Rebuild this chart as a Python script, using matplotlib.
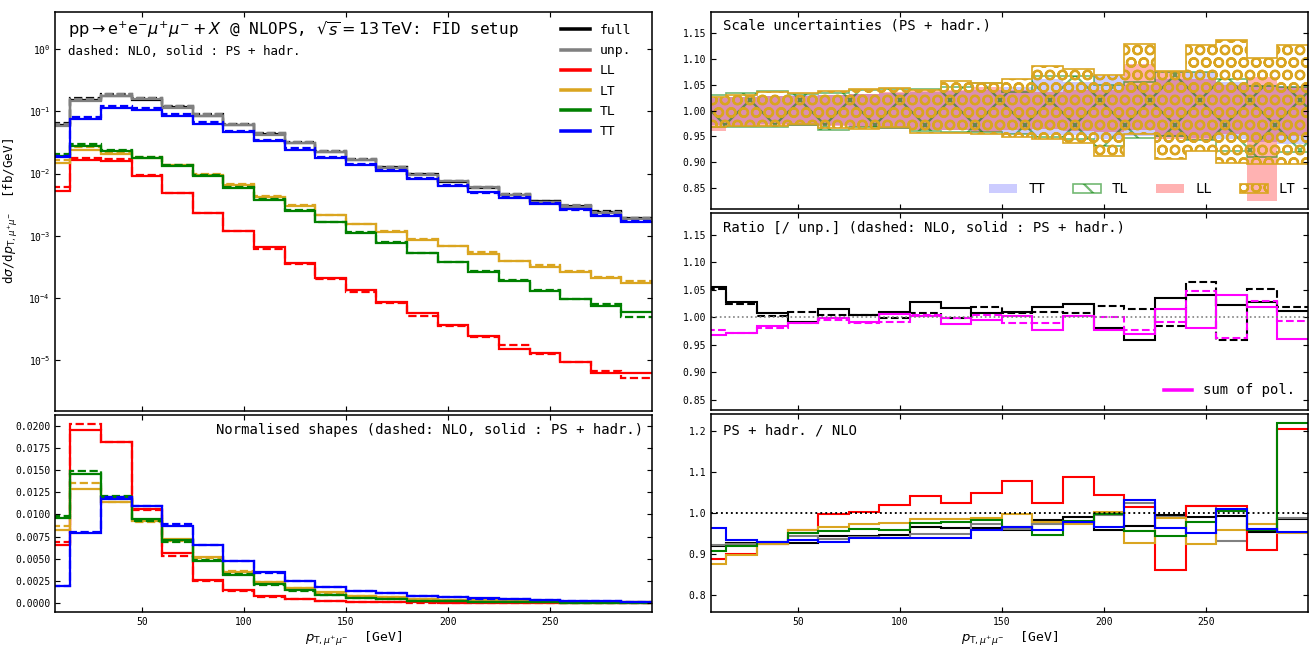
import numpy as np
import matplotlib
matplotlib.use('Agg')
import matplotlib.pyplot as plt
from matplotlib.lines import Line2D
from matplotlib.ticker import FormatStrFormatter, NullLocator, FixedLocator

plt.rcParams['font.family'] = ['DejaVu Sans Mono', 'DejaVu Sans']
plt.rcParams['mathtext.fontset'] = 'dejavusans'
plt.rcParams['hatch.linewidth'] = 1.05

# bin edges of p_T,mumu [GeV]
edges = np.arange(0, 301, 15)

# --- differential cross sections [fb/GeV], PS + hadr. (solid) and NLO (dashed)
full_ps = [0.061, 0.152, 0.176, 0.155, 0.117, 0.085, 0.060, 0.043, 0.031, 0.0226,
           0.0166, 0.0126, 0.0098, 0.0074, 0.0058, 0.0046, 0.0036, 0.0030, 0.0024, 0.0019]
full_nlo = [0.0663, 0.164, 0.190, 0.167, 0.124, 0.090, 0.0634, 0.0445, 0.0322, 0.0235,
            0.0173, 0.0128, 0.0099, 0.0077, 0.0060, 0.00463, 0.00364, 0.00302, 0.00252, 0.00193]
unp_ps = [0.0578, 0.148, 0.175, 0.156, 0.115, 0.0847, 0.0595, 0.0419, 0.0305, 0.0224,
          0.01645, 0.01236, 0.00957, 0.00754, 0.00605, 0.00444, 0.00346, 0.00294, 0.00234, 0.00188]
unp_nlo = [0.0630, 0.160, 0.190, 0.1655, 0.1235, 0.0896, 0.0635, 0.0442, 0.0323, 0.0231,
           0.0172, 0.01269, 0.00983, 0.00754, 0.00591, 0.00471, 0.00342, 0.00315, 0.0024, 0.0019]
LL_ps = [0.00532, 0.0163, 0.0157, 0.0092, 0.00482, 0.00235, 0.00119, 0.000646, 0.000365, 0.000211,
         0.000135, 8.45e-5, 5.6e-5, 3.63e-5, 2.38e-5, 1.51e-5, 1.28e-5, 9.2e-6, 6.1e-6, 6.1e-6]
LL_nlo = [0.0060, 0.0181, 0.0170, 0.0096, 0.00483, 0.00235, 0.00117, 0.00062, 0.000356, 0.000201,
          0.000125, 8.25e-5, 5.15e-5, 3.48e-5, 2.34e-5, 1.76e-5, 1.26e-5, 9.1e-6, 6.7e-6, 5.05e-6]
LT_ps = [0.0147, 0.0236, 0.0208, 0.0177, 0.0135, 0.00955, 0.00657, 0.00426, 0.00305, 0.00214,
         0.00154, 0.00116, 0.00085, 0.00068, 0.000505, 0.000394, 0.000315, 0.000261, 0.000211, 0.000176]
LT_nlo = [0.0168, 0.0263, 0.0225, 0.01846, 0.01396, 0.0098, 0.00673, 0.00432, 0.0031, 0.00217,
          0.00154, 0.00119, 0.00087, 0.00068, 0.000545, 0.000398, 0.000341, 0.000272, 0.000217, 0.000185]
TL_ps = [0.0189, 0.0274, 0.0227, 0.0177, 0.0130, 0.00897, 0.0058, 0.00376, 0.00253, 0.00164,
         0.00111, 0.00075, 0.000517, 0.00037, 0.000261, 0.000185, 0.000129, 9.55e-5, 7.46e-5, 5.9e-5]
TL_nlo = [0.0208, 0.0298, 0.0244, 0.0186, 0.0136, 0.00934, 0.00605, 0.00385, 0.00259, 0.00167,
          0.00115, 0.00079, 0.000528, 0.000371, 0.000273, 0.000196, 0.000132, 9.5e-5, 7.8e-5, 4.85e-5]
TT_ps = [0.0185, 0.0767, 0.114, 0.105, 0.0847, 0.063, 0.046, 0.033, 0.0242, 0.0178,
         0.0137, 0.0108, 0.0082, 0.0064, 0.00507, 0.0040, 0.0032, 0.00266, 0.0021, 0.00166]
TT_nlo = [0.0192, 0.0820, 0.1226, 0.1125, 0.0913, 0.0670, 0.0490, 0.0352, 0.0258, 0.01856,
          0.01418, 0.01127, 0.00838, 0.00663, 0.00491, 0.00415, 0.00336, 0.00263, 0.00218, 0.00174]

# --- normalised shapes
LL_shape_ps = [0.00657, 0.01956, 0.01817, 0.01062, 0.00559, 0.00263, 0.00143, 0.00075, 0.00042, 0.00024,
               0.00016, 0.00010, 6.7e-5, 4.4e-5, 2.9e-5, 1.8e-5, 1.5e-5, 1.1e-5, 7e-6, 7e-6]
LL_shape_nlo = [0.00683, 0.0202, 0.0182, 0.0105, 0.00525, 0.00252, 0.00135, 0.00070, 0.00040, 0.00022,
                0.00014, 9e-5, 5.7e-5, 3.9e-5, 2.6e-5, 2e-5, 1.4e-5, 1e-5, 7.5e-6, 5.6e-6]
LT_shape_ps = [0.00818, 0.01291, 0.01134, 0.00927, 0.0072, 0.00514, 0.00345, 0.00240, 0.00170, 0.00125,
               0.00084, 0.00063, 0.00046, 0.00037, 0.00028, 0.00022, 0.00017, 0.00014, 0.000115, 9.6e-5]
LT_shape_nlo = [0.00871, 0.01351, 0.01134, 0.00916, 0.00702, 0.00503, 0.00357, 0.00236, 0.00168, 0.00118,
                0.00084, 0.00065, 0.00047, 0.00037, 0.0003, 0.00022, 0.00019, 0.00015, 0.00012, 0.0001]
TL_shape_ps = [0.00957, 0.01453, 0.01194, 0.0095, 0.00706, 0.00469, 0.00312, 0.00210, 0.00142, 0.00095,
               0.00059, 0.00040, 0.000275, 0.000197, 0.000139, 9.9e-5, 6.9e-5, 5.1e-5, 4e-5, 3.1e-5]
TL_shape_nlo = [0.00976, 0.0149, 0.01209, 0.0093, 0.00683, 0.0048, 0.0033, 0.00200, 0.00135, 0.00087,
                0.00058, 0.0004, 0.00026, 0.000186, 0.000137, 9.8e-5, 6.6e-5, 4.8e-5, 3.9e-5, 2.4e-5]
TT_shape_ps = [0.00188, 0.00792, 0.0117, 0.01089, 0.00871, 0.0065, 0.00469, 0.00345, 0.0025, 0.00184,
               0.00141, 0.00111, 0.00085, 0.00066, 0.00052, 0.00041, 0.00033, 0.00027, 0.00022, 0.00017]
TT_shape_nlo = [0.00187, 0.00798, 0.01194, 0.01095, 0.00889, 0.00652, 0.00477, 0.00343, 0.00251, 0.00181,
                0.00138, 0.0011, 0.00082, 0.00065, 0.00048, 0.0004, 0.00033, 0.00026, 0.00021, 0.00017]

# --- scale uncertainty bands (PS + hadr.), relative
TT_lo = [0.972, 0.972, 0.973, 0.973, 0.972, 0.970, 0.968, 0.963, 0.962, 0.960,
         0.955, 0.952, 0.952, 0.945, 0.950, 0.948, 0.947, 0.945, 0.940, 0.935]
TT_hi = [1.025, 1.027, 1.028, 1.029, 1.030, 1.032, 1.033, 1.036, 1.038, 1.040,
         1.045, 1.060, 1.055, 1.066, 1.050, 1.060, 1.075, 1.055, 1.050, 1.048]
TL_lo = [0.969, 0.968, 0.968, 0.972, 0.963, 0.968, 0.966, 0.960, 0.958, 0.959,
         0.955, 0.948, 0.945, 0.932, 0.946, 0.950, 0.943, 0.922, 0.911, 0.919]
TL_hi = [1.030, 1.034, 1.037, 1.032, 1.034, 1.039, 1.041, 1.042, 1.045, 1.053,
         1.035, 1.066, 1.066, 1.050, 1.055, 1.075, 1.075, 1.061, 1.048, 1.045]
LL_lo = [0.961, 0.968, 0.970, 0.971, 0.970, 0.968, 0.965, 0.963, 0.962, 0.958,
         0.962, 0.965, 0.960, 0.958, 0.962, 0.945, 0.943, 0.955, 0.826, 0.950]
LL_hi = [1.025, 1.027, 1.028, 1.028, 1.030, 1.032, 1.035, 1.038, 1.040, 1.045,
         1.040, 1.035, 1.040, 1.040, 1.090, 1.076, 1.060, 1.050, 1.065, 1.045]
LT_lo = [0.969, 0.971, 0.971, 0.974, 0.966, 0.964, 0.968, 0.956, 0.956, 0.955,
         0.948, 0.945, 0.937, 0.913, 0.955, 0.907, 0.922, 0.898, 0.897, 0.897]
LT_hi = [1.027, 1.029, 1.035, 1.034, 1.037, 1.042, 1.044, 1.040, 1.057, 1.053,
         1.060, 1.085, 1.080, 1.069, 1.128, 1.077, 1.126, 1.136, 1.101, 1.127]

# --- ratio to unpolarised
full_unp_ps = [1.056, 1.027, 1.007, 0.991, 1.015, 1.004, 1.009, 1.027, 1.016, 1.007,
               1.009, 1.019, 1.024, 0.981, 0.959, 1.036, 1.040, 1.022, 1.027, 1.012]
full_unp_nlo = [1.052, 1.024, 1.002, 1.009, 1.004, 1.005, 0.999, 1.007, 0.998, 1.018,
                1.007, 1.009, 1.007, 1.021, 1.015, 0.984, 1.065, 0.959, 1.051, 1.018]
sum_unp_ps = [0.968, 0.972, 0.984, 0.989, 0.998, 0.991, 1.006, 1.003, 0.988, 0.995,
              1.002, 0.977, 1.003, 0.977, 0.970, 1.015, 0.980, 1.040, 1.018, 0.961]
sum_unp_nlo = [0.977, 0.972, 0.981, 0.989, 0.995, 0.990, 0.991, 1.004, 0.998, 1.005,
               0.989, 0.990, 1.002, 1.001, 0.976, 0.992, 1.048, 0.962, 1.030, 0.993]

# --- PS + hadr. / NLO
full_r = [0.920, 0.927, 0.927, 0.927, 0.945, 0.944, 0.946, 0.967, 0.964, 0.963,
          0.959, 0.982, 0.990, 0.958, 0.968, 0.994, 0.990, 0.993, 0.953, 0.986]
unp_r = [0.923, 0.924, 0.925, 0.943, 0.936, 0.942, 0.940, 0.948, 0.948, 0.974,
         0.961, 0.972, 0.977, 0.994, 1.024, 0.990, 1.016, 0.932, 0.958, 0.989]
LL_r = [0.887, 0.901, 0.925, 0.959, 0.997, 1.002, 1.020, 1.042, 1.024, 1.048,
        1.078, 1.024, 1.088, 1.044, 1.015, 0.860, 1.016, 1.016, 0.909, 1.206]
LT_r = [0.876, 0.897, 0.925, 0.959, 0.967, 0.974, 0.976, 0.985, 0.985, 0.989,
        0.998, 0.978, 0.974, 1.002, 0.927, 0.989, 0.924, 0.959, 0.974, 0.950]
TL_r = [0.907, 0.919, 0.930, 0.952, 0.956, 0.960, 0.959, 0.976, 0.978, 0.984,
        0.967, 0.946, 0.980, 0.998, 0.956, 0.943, 0.977, 1.004, 0.959, 1.219]
TT_r = [0.963, 0.935, 0.930, 0.933, 0.928, 0.940, 0.938, 0.938, 0.938, 0.959,
        0.966, 0.958, 0.978, 0.966, 1.033, 0.964, 0.951, 1.011, 0.962, 0.953]

colors = {'full': 'black', 'unp.': 'gray', 'LL': 'red', 'LT': 'goldenrod',
          'TL': 'green', 'TT': 'blue'}

# figure is drawn at 150 dpi (hatch spacing follows dpi), sizes below in points
lw = 1.07

fig = plt.figure(figsize=(1311 / 150, 649 / 150), dpi=150)
W, H = 1311., 649.
axA = fig.add_axes([55 / W, 1 - 411 / H, 597 / W, 399 / H])
axS = fig.add_axes([55 / W, 1 - 612 / H, 597 / W, 197 / H])
axB = fig.add_axes([711 / W, 1 - 209 / H, 597 / W, 197 / H])
axC = fig.add_axes([711 / W, 1 - 410 / H, 597 / W, 197 / H])
axD = fig.add_axes([711 / W, 1 - 612 / H, 597 / W, 198 / H])

for ax in [axA, axS, axB, axC, axD]:
    ax.set_xlim(7.5, 300)
    ax.xaxis.set_major_locator(FixedLocator([50, 100, 150, 200, 250]))
    ax.tick_params(direction='in', top=True, right=True, labelsize=4.7,
                   length=2.3, width=0.55, pad=2.3)
    for s in ax.spines.values():
        s.set_linewidth(0.75)
for ax in [axA, axB, axC]:
    ax.tick_params(labelbottom=False)

# ---- top left: differential distributions
series = [('full', full_ps, full_nlo), ('unp.', unp_ps, unp_nlo), ('LL', LL_ps, LL_nlo),
          ('LT', LT_ps, LT_nlo), ('TL', TL_ps, TL_nlo), ('TT', TT_ps, TT_nlo)]
for name, ps, nlo in series:
    axA.stairs(ps, edges, baseline=None, color=colors[name], lw=lw)
    axA.stairs(nlo, edges, baseline=None, color=colors[name], lw=lw, ls='--')
axA.set_yscale('log')
axA.set_ylim(1.5e-6, 4)
axA.yaxis.set_major_locator(FixedLocator([1e-5, 1e-4, 1e-3, 1e-2, 1e-1, 1]))
axA.yaxis.set_minor_locator(NullLocator())
axA.set_ylabel(r'd$\sigma$/d$p_{\mathrm{T},\mu^{+}\mu^{-}}$  [fb/GeV]', fontsize=6)
axA.text(0.022, 0.957, r'$\mathrm{pp}\rightarrow\mathrm{e}^{+}\mathrm{e}^{-}\mu^{+}\mu^{-}+X$ @ NLOPS, '
         r'$\sqrt{s}=13\,\mathrm{TeV}$: FID setup',
         transform=axA.transAxes, fontsize=7.7, va='center')
axA.text(0.022, 0.9, 'dashed: NLO, solid : PS + hadr.', transform=axA.transAxes,
         fontsize=6, va='center')
handles = [Line2D([], [], color=colors[n], lw=1.7) for n, _, _ in series]
axA.legend(handles, [n for n, _, _ in series], loc='upper right', frameon=False,
           fontsize=6.33, handlelength=2.2, handletextpad=0.7, labelspacing=0.55,
           bbox_to_anchor=(0.985, 1.0))

# ---- bottom left: normalised shapes
shapes = [('LL', LL_shape_ps, LL_shape_nlo), ('LT', LT_shape_ps, LT_shape_nlo),
          ('TL', TL_shape_ps, TL_shape_nlo), ('TT', TT_shape_ps, TT_shape_nlo)]
for name, ps, nlo in shapes:
    axS.stairs(ps, edges, baseline=None, color=colors[name], lw=lw)
    axS.stairs(nlo, edges, baseline=None, color=colors[name], lw=lw, ls='--')
axS.set_ylim(-0.00101, 0.0212)
axS.yaxis.set_major_locator(FixedLocator(np.arange(0, 0.0201, 0.0025)))
axS.yaxis.set_major_formatter(FormatStrFormatter('%.4f'))
axS.text(0.985, 0.924, 'Normalised shapes (dashed: NLO, solid : PS + hadr.)',
         transform=axS.transAxes, fontsize=6.67, ha='right', va='center')
axS.set_xlabel(r'$p_{\mathrm{T},\mu^{+}\mu^{-}}$  [GeV]', fontsize=6.33, labelpad=1.3)

# ---- top right: scale uncertainties
bTT = axB.stairs(TT_hi, edges, baseline=TT_lo, fill=True, facecolor='blue', alpha=0.2,
                 lw=0, label='TT')
bLL = axB.stairs(LL_hi, edges, baseline=LL_lo, fill=True, facecolor='red', alpha=0.3,
                 lw=0, label='LL')
bTL = axB.stairs(TL_hi, edges, baseline=TL_lo, fill=True, facecolor='none',
                 edgecolor=(0, 0.5, 0, 0.55), hatch='x', lw=0.8, label='TL')
bLT = axB.stairs(LT_hi, edges, baseline=LT_lo, fill=True, facecolor='none',
                 edgecolor='goldenrod', hatch='OO', lw=0.8, label='LT')
axB.set_ylim(0.81, 1.19)
axB.yaxis.set_major_locator(FixedLocator(np.arange(0.85, 1.151, 0.05)))
axB.yaxis.set_major_formatter(FormatStrFormatter('%.2f'))
axB.text(0.02, 0.929, 'Scale uncertainties (PS + hadr.)', transform=axB.transAxes,
         fontsize=6.67, va='center')
axB.legend([bTT, bTL, bLL, bLT], ['TT', 'TL', 'LL', 'LT'], loc='lower right', ncol=4,
           frameon=False, fontsize=6.67, handlelength=2.0, handletextpad=0.8,
           columnspacing=2.0)

# ---- middle right: ratio to unpolarised
axC.axhline(1.0, color='gray', ls=':', lw=0.8)
axC.stairs(full_unp_ps, edges, baseline=None, color='black', lw=1.0)
axC.stairs(full_unp_nlo, edges, baseline=None, color='black', lw=1.0, ls='--')
axC.stairs(sum_unp_ps, edges, baseline=None, color='magenta', lw=1.0)
axC.stairs(sum_unp_nlo, edges, baseline=None, color='magenta', lw=1.0, ls='--')
axC.set_ylim(0.831, 1.19)
axC.yaxis.set_major_locator(FixedLocator(np.arange(0.85, 1.151, 0.05)))
axC.yaxis.set_major_formatter(FormatStrFormatter('%.2f'))
axC.text(0.02, 0.924, 'Ratio [/ unp.] (dashed: NLO, solid : PS + hadr.)',
         transform=axC.transAxes, fontsize=6.67, va='center')
axC.legend(handles=[Line2D([], [], color='magenta', lw=1.7)], labels=['sum of pol.'],
           loc='lower right', frameon=False, fontsize=6.67, handlelength=2.0,
           handletextpad=0.8)

# ---- bottom right: PS + hadr. / NLO
axD.axhline(1.0, color='black', ls=':', lw=0.9)
for name, r in [('full', full_r), ('unp.', unp_r), ('LL', LL_r), ('LT', LT_r),
                ('TL', TL_r), ('TT', TT_r)]:
    axD.stairs(r, edges, baseline=None, color=colors[name], lw=1.0)
axD.set_ylim(0.758, 1.242)
axD.yaxis.set_major_locator(FixedLocator([0.8, 0.9, 1.0, 1.1, 1.2]))
axD.yaxis.set_major_formatter(FormatStrFormatter('%.1f'))
axD.text(0.02, 0.919, 'PS + hadr. / NLO', transform=axD.transAxes, fontsize=6.67,
         va='center')
axD.set_xlabel(r'$p_{\mathrm{T},\mu^{+}\mu^{-}}$  [GeV]', fontsize=6.33, labelpad=1.3)

fig.savefig('out.png', dpi=150)
